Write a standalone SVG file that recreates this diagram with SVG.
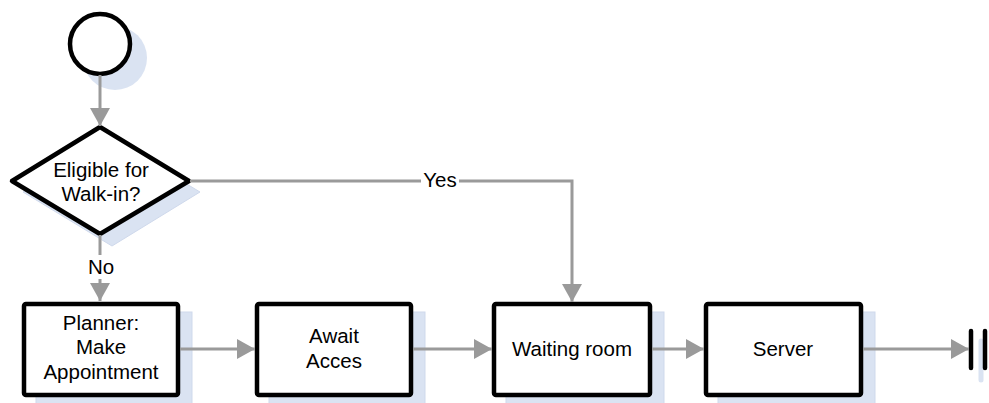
<svg xmlns="http://www.w3.org/2000/svg" width="989" height="403" viewBox="0 0 989 403">
<defs>
<marker id="arr" markerUnits="userSpaceOnUse" markerWidth="18" markerHeight="20" refX="18" refY="10" orient="auto">
<path d="M0,0 L18,10 L0,20 Z" fill="#9a9a9a"/>
</marker>
<style>
.shadow{fill:#dae3f2;stroke:#cfd9ec;stroke-width:1}
.box{fill:#fff;stroke:#000;stroke-width:4.5;stroke-linejoin:round}
.conn{fill:none;stroke:#9a9a9a;stroke-width:3}
.t{font-family:"Liberation Sans",Arial,sans-serif;font-size:20.5px;fill:#000;text-anchor:middle}
</style>
</defs>
<rect width="989" height="403" fill="#fff"/>
<g id="start">
<circle cx="115" cy="58" r="32" fill="#dae3f2"/>
<circle cx="100" cy="44" r="30" class="box"/>
</g>
<g id="decision">
<polygon points="100,139 188,192 100,246 11,192" transform="translate(12,0)" class="shadow"/>
<polygon points="100,127 189,181 100,234 12,181" class="box"/>
<text class="t" x="101" y="177">Eligible for</text>
<text class="t" x="101" y="201">Walk-in?</text>
</g>
<g id="planner">
<rect x="36" y="312" width="156" height="95" class="shadow"/>
<rect x="24" y="304" width="154" height="91" rx="2" class="box"/>
<text class="t" x="101" y="330">Planner:</text>
<text class="t" x="101" y="354">Make</text>
<text class="t" x="101" y="379">Appointment</text>
</g>
<g id="await">
<rect x="269" y="312" width="156" height="95" class="shadow"/>
<rect x="257" y="304" width="154" height="91" rx="2" class="box"/>
<text class="t" x="334" y="343">Await</text>
<text class="t" x="334" y="368">Acces</text>
</g>
<g id="waiting">
<rect x="506" y="312" width="158" height="95" class="shadow"/>
<rect x="494" y="304" width="156" height="91" rx="2" class="box"/>
<text class="t" x="572" y="356">Waiting room</text>
</g>
<g id="server">
<rect x="718" y="312" width="157" height="95" class="shadow"/>
<rect x="706" y="304" width="155" height="91" rx="2" class="box"/>
<text class="t" x="783" y="356">Server</text>
</g>
<g id="end">
<line x1="981" y1="341" x2="981" y2="380" stroke="#dae3f2" stroke-width="5" stroke-linecap="round"/>
<line x1="971" y1="331" x2="971" y2="368" stroke="#000" stroke-width="4.5" stroke-linecap="round"/>
<line x1="985" y1="331" x2="985" y2="368" stroke="#000" stroke-width="4.5" stroke-linecap="round"/>
</g>
<g id="connectors">
<line class="conn" x1="100" y1="75" x2="100" y2="126" marker-end="url(#arr)"/>
<polyline class="conn" points="190,181 572,181 572,302" marker-end="url(#arr)"/>
<rect x="421" y="170" width="38" height="22" fill="#fff"/>
<text class="t" x="440" y="187">Yes</text>
<line class="conn" x1="100" y1="235" x2="100" y2="301" marker-end="url(#arr)"/>
<rect x="86" y="255" width="28" height="24" fill="#fff"/>
<text class="t" x="101" y="274">No</text>
<line class="conn" x1="180" y1="349" x2="255" y2="349" marker-end="url(#arr)"/>
<line class="conn" x1="413" y1="349" x2="492" y2="349" marker-end="url(#arr)"/>
<line class="conn" x1="652" y1="349" x2="704" y2="349" marker-end="url(#arr)"/>
<line class="conn" x1="863" y1="349" x2="969" y2="349" marker-end="url(#arr)"/>
</g>
</svg>
